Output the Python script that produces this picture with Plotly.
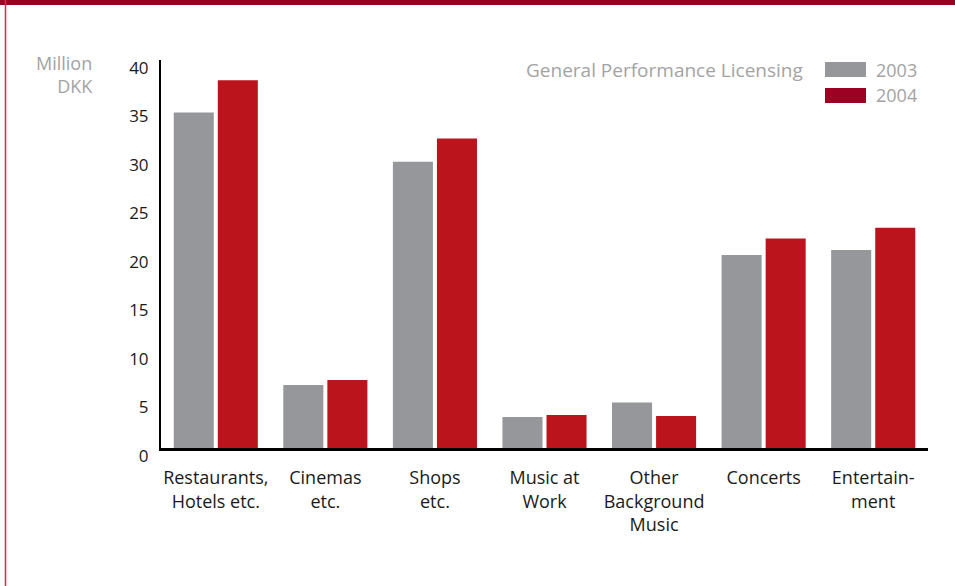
import plotly.graph_objects as go

# Licensing revenue by segment, million DKK
categories = [
    "Restaurants,<br>Hotels etc.",
    "Cinemas<br>etc.",
    "Shops<br>etc.",
    "Music at<br>Work",
    "Other<br>Background<br>Music",
    "Concerts",
    "Entertain-<br>ment",
]
values_2003 = [34.6, 6.5, 29.5, 3.2, 4.7, 19.9, 20.4]
values_2004 = [37.9, 7.0, 31.9, 3.4, 3.3, 21.6, 22.7]
y_ticks = [0, 5, 10, 15, 20, 25, 30, 35, 40]

W, H = 955, 586
M_L, M_R, M_T, M_B = 161, 27, 60, 138
PW, PH = W - M_L - M_R, H - M_T - M_B

GREY = "#96979b"
RED = "#bb141c"
DARK_RED = "#9c0022"
FONT = "Open Sans"


def px(x):
    return (x - M_L) / PW


def py(y):
    return (H - M_B - y) / PH


fig = go.Figure()
fig.add_trace(go.Bar(x=categories, y=values_2003, name="2003",
                     marker=dict(color=GREY, line=dict(width=0))))
fig.add_trace(go.Bar(x=categories, y=values_2004, name="2004",
                     marker=dict(color=RED, line=dict(width=0))))

shapes = [
    # page frame: top band and thin left rule
    dict(type="rect", xref="paper", yref="paper", x0=px(0), x1=px(W),
         y0=py(5), y1=py(0), fillcolor=DARK_RED, line=dict(width=0), layer="above"),
    dict(type="line", xref="paper", yref="paper", x0=px(5.5), x1=px(5.5),
         y0=py(0), y1=py(H), line=dict(color="#c8324c", width=1.5)),
    # legend swatches
    dict(type="rect", xref="paper", yref="paper", x0=px(825), x1=px(866),
         y0=py(77), y1=py(62), fillcolor=GREY, line=dict(width=0)),
    dict(type="rect", xref="paper", yref="paper", x0=px(825), x1=px(866),
         y0=py(103), y1=py(88), fillcolor=DARK_RED, line=dict(width=0)),
]

annotations = [
    dict(text="General Performance Licensing", xref="paper", yref="paper",
         x=px(805), y=py(70), xanchor="right", yanchor="middle", showarrow=False,
         font=dict(family=FONT, size=19, color="#a3a3a3")),
    dict(text="2003", xref="paper", yref="paper", x=px(874), y=py(70),
         xanchor="left", yanchor="middle", showarrow=False,
         font=dict(family=FONT, size=18, color="#a3a3a3")),
    dict(text="2004", xref="paper", yref="paper", x=px(874), y=py(95),
         xanchor="left", yanchor="middle", showarrow=False,
         font=dict(family=FONT, size=18, color="#a3a3a3")),
    dict(text="Million<br>DKK", xref="paper", yref="paper", x=px(95), y=py(49),
         xanchor="right", yanchor="top", align="right", showarrow=False,
         font=dict(family=FONT, size=18, color="#a3a3a3")),
]

fig.update_layout(
    width=W, height=H,
    margin=dict(l=M_L, r=M_R, t=M_T, b=M_B, pad=0),
    paper_bgcolor="white", plot_bgcolor="white",
    showlegend=False,
    barmode="group", bargap=0.196, bargroupgap=0.091,
    font=dict(family=FONT, size=18, color="#1a1a1a"),
    shapes=shapes, annotations=annotations,
)
fig.update_xaxes(
    showline=True, linecolor="black", linewidth=2.5,
    ticks="", showgrid=False, ticklabelstandoff=12,
    tickfont=dict(family=FONT, size=18, color="#1a1a1a"),
)
fig.update_yaxes(
    range=[0, 40], tickvals=y_ticks, showline=True, linecolor="black",
    linewidth=2, ticks="", showgrid=False, zeroline=False,
    ticklabelstandoff=7, ticklabelshift=8,
    tickfont=dict(family=FONT, size=17, color="#1a1a1a"),
)

fig.write_html("out.html")
